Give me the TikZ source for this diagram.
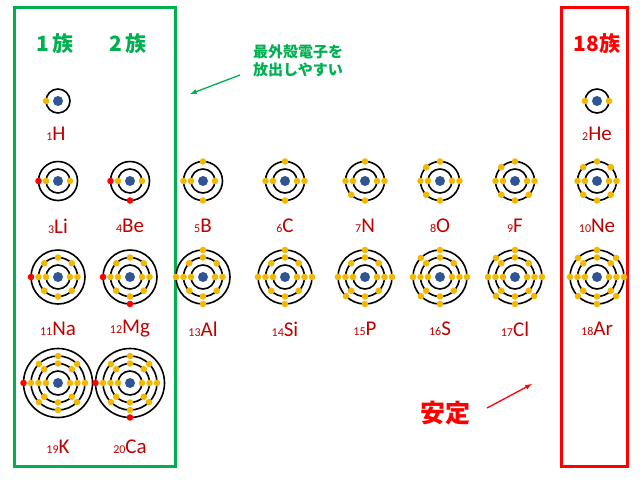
\documentclass[tikz,border=0pt]{standalone}
\usepackage{fontspec}
\setmainfont{Carlito}
\newfontfamily\jp{Noto Sans CJK JP}
\usetikzlibrary{calc}
\definecolor{elec}{HTML}{F5B800}
\definecolor{nucl}{HTML}{2F5597}
\definecolor{lbl}{HTML}{C00000}
\definecolor{grp}{HTML}{00B050}
\tikzset{
  orbit/.style = {draw, line width=1.6pt},
  lab/.style = {text=lbl, font=\fontsize{21}{21}\selectfont, inner sep=0pt},
  head/.style = {font=\jp\bfseries\fontsize{21}{21}\selectfont, inner sep=0pt}
}
% shell: x, y, shell number, electrons, colour of the last ones, how many red
\newcommand\atomshell[6]{%
  \pgfmathsetmacro\rr{12+7.5*(#3-1)}
  \draw[orbit] (#1,#2) circle[radius=\rr pt];
  \ifnum#3=1
    \foreach \a [count=\i] in {180,0} {\ifnum\i>#4\relax\else
      \fill[elec] ($(#1,#2)+(\a:\rr pt)$) circle[radius=3.3pt];\fi}
  \else
    \foreach \a [count=\i] in {180,270,90,0,225,135,315,45} {\ifnum\i>#4\relax\else
      \pgfmathtruncatemacro\lim{#4-#6}
      \ifnum\i>\lim\relax
        \fill[#5] ($(#1,#2)+(\a:\rr pt)$) circle[radius=3.3pt];
      \else
        \fill[elec] ($(#1,#2)+(\a:\rr pt)$) circle[radius=3.3pt];
      \fi\fi}
  \fi}
\newcommand\nucleus[2]{\fill[nucl] (#1,#2) circle[radius=5pt];}
\begin{document}
\begin{tikzpicture}[x=1pt,y=1pt]
\useasboundingbox (0,0) rectangle (640,-480);
\fill[white] (0,0) rectangle (640,-480);
% group boxes
\draw[grp, line width=3pt] (14,-7) rectangle (175,-466);
\draw[red, line width=3pt] (561,-7) rectangle (627,-466);
\node[head, text=grp] (g1) at (55,-44) {1\,族};
\node[head, text=grp] (g2) at (128,-44) {2\,族};
\node[head, text=red] (g18) at (597,-44) {18族};
\node[text=grp, font=\jp\bfseries\fontsize{15}{18}\selectfont, align=center, inner sep=0pt] (note) at (298,-61) {最外殻電子を\\放出しやすい};
\node[text=red, font=\jp\bfseries\fontsize{25}{25}\selectfont, inner sep=0pt] (stable) at (445,-413) {安定};
\coordinate (n1) at (240,-75);
\coordinate (n2) at (190,-94);
\coordinate (s1) at (487,-408);
\coordinate (s2) at (532,-384);
\draw[-latex, grp, line width=1.3pt] (n1) -- (n2);
\draw[-latex, red, line width=1.3pt] (s1) -- (s2);
% row 1
\atomshell{58}{-101}{1}{1}{red}{0} \nucleus{58}{-101}
\atomshell{597}{-101}{1}{2}{elec}{0} \nucleus{597}{-101}
\node[lab] (H) at (56,-134) {{\fontsize{12}{12}\selectfont 1}H};
\node[lab] (He) at (597,-134) {{\fontsize{12}{12}\selectfont 2}He};
% row 2
\foreach \x/\n/\s/\r/\nm in {58/1/3/1/Li,130/2/4/2/Be,203/3/5/0/B,285/4/6/0/C,365/5/7/0/N,440/6/8/0/O,515/7/9/0/F,597/8/10/0/Ne} {
  \atomshell{\x}{-181}{1}{2}{elec}{0}
  \atomshell{\x}{-181}{2}{\n}{red}{\r}
  \nucleus{\x}{-181}
  \node[lab] (\nm) at (\x,-226) {{\fontsize{12}{12}\selectfont\s}\nm};
}
% row 3
\foreach \x/\n/\s/\r/\nm in {58/1/11/1/Na,130/2/12/2/Mg,203/3/13/0/Al,285/4/14/0/Si,365/5/15/0/P,440/6/16/0/S,515/7/17/0/Cl,597/8/18/0/Ar} {
  \atomshell{\x}{-277}{1}{2}{elec}{0}
  \atomshell{\x}{-277}{2}{8}{elec}{0}
  \atomshell{\x}{-277}{3}{\n}{red}{\r}
  \nucleus{\x}{-277}
  \node[lab] (\nm) at (\x,-329) {{\fontsize{12}{12}\selectfont\s}\nm};
}
% row 4
\foreach \x/\n/\s/\nm in {58/1/19/K,130/2/20/Ca} {
  \atomshell{\x}{-383}{1}{2}{elec}{0}
  \atomshell{\x}{-383}{2}{8}{elec}{0}
  \atomshell{\x}{-383}{3}{8}{elec}{0}
  \atomshell{\x}{-383}{4}{\n}{red}{\n}
  \nucleus{\x}{-383}
  \node[lab] (\nm) at (\x,-447) {{\fontsize{12}{12}\selectfont\s}\nm};
}
\end{tikzpicture}
\end{document}
